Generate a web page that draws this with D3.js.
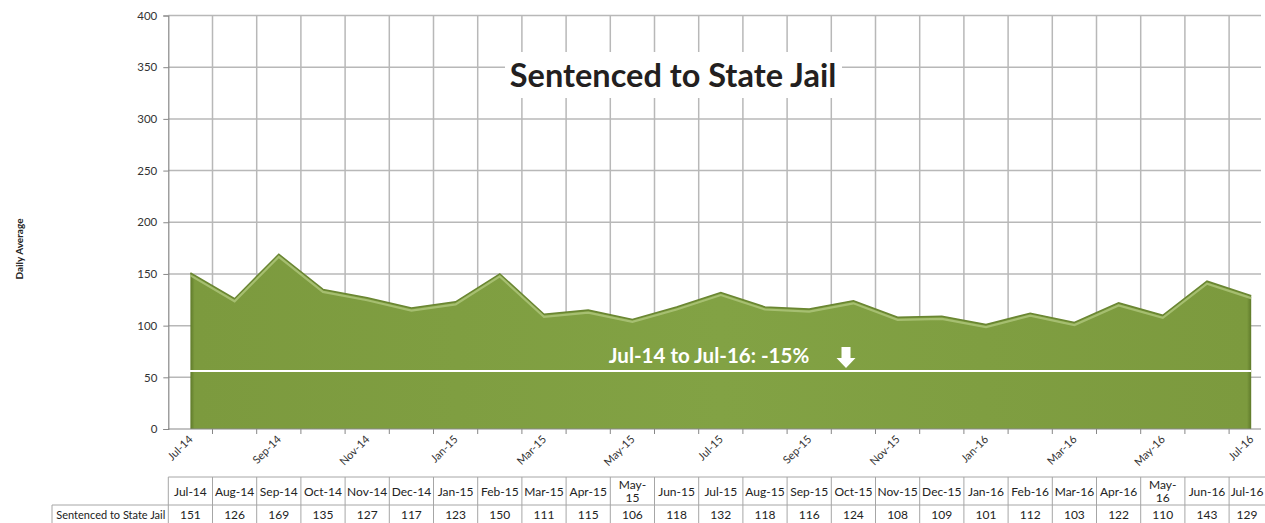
<!DOCTYPE html>
<html>
<head>
<meta charset="utf-8">
<script src="https://cdn.jsdelivr.net/npm/d3@7"></script>
<style>
  body { margin: 0; background: #fff; }
  svg { display: block; font-family: Lato, "Open Sans", sans-serif; }
</style>
</head>
<body>
<div id="graph"></div>
<script>
var months = ["Jul-14","Aug-14","Sep-14","Oct-14","Nov-14","Dec-14","Jan-15","Feb-15","Mar-15","Apr-15",
  "May-15","Jun-15","Jul-15","Aug-15","Sep-15","Oct-15","Nov-15","Dec-15","Jan-16","Feb-16",
  "Mar-16","Apr-16","May-16","Jun-16","Jul-16"];
var values = [151,126,169,135,127,117,123,150,111,115,106,118,132,118,116,124,108,109,101,112,103,122,110,143,129];
var yTicks = [0,50,100,150,200,250,300,350,400];
var seriesName = "Sentenced to State Jail";
var trendValue = 56; // white reference line
var trendLabel = "Jul-14 to Jul-16: -15%";

var W = 1265, H = 523;
var plot = {left: 168.3, top: 15.5, bottom: 429, gridRight: 1261};
var colW = 44.2;

var svg = d3.select("#graph").append("svg").attr("width", W).attr("height", H);

var x = d3.scaleBand().domain(months).range([plot.left, plot.left + colW * months.length]);
var y = d3.scaleLinear().domain([0, 400]).range([plot.bottom, plot.top]);
var cx = function(m) { return x(m) + x.bandwidth() / 2; };
// table cells: centre in the part of the column that is visible
var tx = function(m) { return (x(m) + Math.min(x(m) + x.bandwidth(), W)) / 2; };

// gridlines
var grid = svg.append("g").attr("stroke", "#b8b8b8").attr("stroke-width", 1.5);
grid.selectAll(".h").data(yTicks.slice(1)).enter().append("line")
  .attr("x1", plot.left).attr("x2", plot.gridRight)
  .attr("y1", function(d) { return y(d); }).attr("y2", function(d) { return y(d); });
grid.selectAll(".v").data(months.slice(1)).enter().append("line")
  .attr("x1", function(d) { return x(d); }).attr("x2", function(d) { return x(d); })
  .attr("y1", plot.top).attr("y2", plot.bottom);

// title box
var title = svg.append("g");
title.append("rect").attr("x", 505).attr("y", 52).attr("width", 337).attr("height", 46).attr("fill", "#fff");
title.append("text").attr("x", 673).attr("y", 87).attr("text-anchor", "middle")
  .attr("font-size", 32.5).attr("font-weight", "bold").attr("fill", "#231f20").text(seriesName);

// area
var defs = svg.append("defs");
var grad = defs.append("linearGradient").attr("id", "edge").attr("x1", 0).attr("x2", 1);
grad.append("stop").attr("offset", 0).attr("stop-color", "#5f7a2a");
grad.append("stop").attr("offset", 0.004).attr("stop-color", "#7c9a3e");
grad.append("stop").attr("offset", 0.5).attr("stop-color", "#82a244");
grad.append("stop").attr("offset", 0.996).attr("stop-color", "#7c9a3e");
grad.append("stop").attr("offset", 1).attr("stop-color", "#5f7a2a");

var area = d3.area().x(function(d, i) { return cx(months[i]); })
  .y0(plot.bottom).y1(function(d) { return y(d); });
var line = d3.line().x(function(d, i) { return cx(months[i]); }).y(function(d) { return y(d); });

svg.append("path").datum(values).attr("d", area).attr("fill", "url(#edge)");
svg.append("path").datum(values).attr("d", line).attr("fill", "none")
  .attr("stroke", "#6a8632").attr("stroke-width", 1.6);
svg.append("path").datum(values).attr("d", line).attr("fill", "none")
  .attr("transform", "translate(0,2.5)")
  .attr("stroke", "#b3ca80").attr("stroke-width", 2.2).attr("stroke-opacity", 0.75);

// trend line + label
svg.append("line").attr("x1", plot.left - 2).attr("x2", cx(months[months.length - 1]))
  .attr("y1", y(trendValue)).attr("y2", y(trendValue))
  .attr("stroke", "#fff").attr("stroke-width", 2);
svg.append("text").attr("x", 709).attr("y", y(trendValue) - 8).attr("text-anchor", "middle")
  .attr("font-size", 20.5).attr("font-weight", "bold").attr("fill", "#fff").text(trendLabel);
var ax = 846, ay = y(trendValue) - 24;
svg.append("path")
  .attr("d", "M" + (ax - 4.5) + "," + ay + "h9v11h5l-9.5,10l-9.5,-10h5z")
  .attr("fill", "#fff");

// y axis
var yAxis = d3.axisLeft(y).tickValues(yTicks).tickSize(5).tickPadding(6);
var gY = svg.append("g").attr("transform", "translate(" + plot.left + ",0)").call(yAxis);
gY.select(".domain").attr("stroke", "#878787").attr("stroke-width", 1.2);
gY.selectAll(".tick line").attr("stroke", "#878787");
gY.selectAll("text").attr("font-size", 11.5).attr("fill", "#333").attr("font-family", "Lato, sans-serif");

// x axis baseline with ticks at category boundaries
var gX = svg.append("g");
gX.append("line").attr("x1", plot.left).attr("x2", plot.gridRight)
  .attr("y1", plot.bottom).attr("y2", plot.bottom).attr("stroke", "#878787").attr("stroke-width", 1.2);
gX.selectAll(".tk").data(months.slice(1)).enter().append("line")
  .attr("x1", function(d) { return x(d); }).attr("x2", function(d) { return x(d); })
  .attr("y1", plot.bottom).attr("y2", plot.bottom + 5).attr("stroke", "#878787");
gX.selectAll(".lab").data(months.filter(function(d, i) { return i % 2 === 0; })).enter().append("text")
  .attr("transform", function(d) { return "translate(" + (cx(d) + 3) + "," + (plot.bottom + 11) + ") rotate(-45)"; })
  .attr("text-anchor", "end").attr("font-size", 11).attr("fill", "#333").text(function(d) { return d; });

// y axis title
svg.append("text").attr("transform", "translate(23,249) rotate(-90)").attr("text-anchor", "middle")
  .attr("font-size", 10).attr("font-weight", "bold").attr("fill", "#222").text("Daily Average");

// data table
var tTop = 477, tMid = 505, tBot = 530, labelLeft = 52;
var tbl = svg.append("g").attr("font-size", 12).attr("fill", "#222");
var bc = "#a6a6a6";
tbl.append("line").attr("x1", plot.left).attr("x2", W).attr("y1", tTop).attr("y2", tTop).attr("stroke", bc);
tbl.append("line").attr("x1", labelLeft).attr("x2", W).attr("y1", tMid).attr("y2", tMid).attr("stroke", bc);
tbl.append("line").attr("x1", labelLeft).attr("x2", labelLeft).attr("y1", tMid).attr("y2", tBot).attr("stroke", bc);
tbl.selectAll(".cb").data(months).enter().append("line")
  .attr("x1", function(d) { return x(d); }).attr("x2", function(d) { return x(d); })
  .attr("y1", tTop).attr("y2", tBot).attr("stroke", bc);
tbl.selectAll(".hd").data(months).enter().append("text")
  .attr("x", function(d) { return tx(d); }).attr("text-anchor", "middle")
  .each(function(d) {
    var t = d3.select(this);
    if (d.indexOf("May") === 0) {
      var p = d.split("-");
      t.append("tspan").attr("x", tx(d)).attr("y", 489).text(p[0] + "-");
      t.append("tspan").attr("x", tx(d)).attr("y", 502).text(p[1]);
    } else {
      t.attr("y", 496).text(d);
    }
  });
tbl.selectAll(".vl").data(values).enter().append("text")
  .attr("x", function(d, i) { return tx(months[i]); }).attr("y", 519).attr("text-anchor", "middle")
  .text(function(d) { return d; });
tbl.append("text").attr("x", plot.left - 3).attr("y", 519).attr("text-anchor", "end")
  .attr("font-size", 11).text(seriesName);
</script>
</body>
</html>
